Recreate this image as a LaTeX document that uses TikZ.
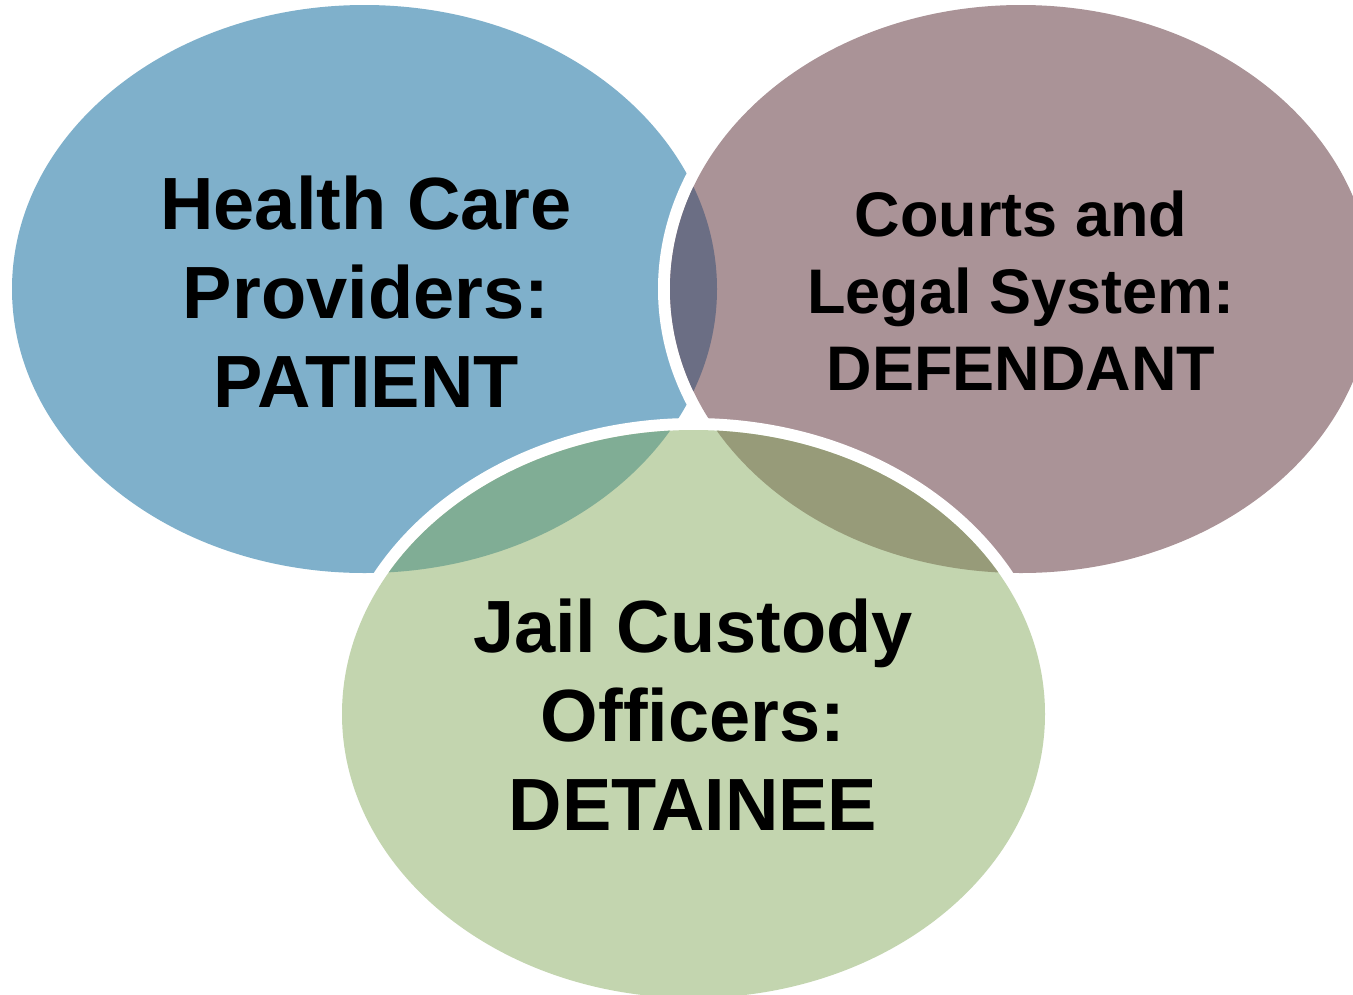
\documentclass[tikz,border=0pt]{standalone}
\usepackage{fontspec}
\setmainfont{Liberation Sans}
\definecolor{cblue}{HTML}{7FB0CB}
\definecolor{cmauve}{HTML}{AA9397}
\definecolor{cgreen}{HTML}{C3D5AF}
\definecolor{cbm}{HTML}{6B6E84}
\definecolor{cgb}{HTML}{80AD95}
\definecolor{cgm}{HTML}{979B79}
\begin{document}
\begin{tikzpicture}[x=1pt,y=-1pt,
  blueE/.style={insert path={(364.5,289) ellipse [x radius=352.5pt, y radius=284pt]}},
  mauveE/.style={insert path={(1021,289) ellipse [x radius=351pt, y radius=284pt]}},
  greenE/.style={insert path={(693.5,714) ellipse [x radius=351.5pt, y radius=284pt]}},
  band/.style={draw=white, line width=24pt},
  lbl/.style={align=center, inner sep=0pt, text=black, font=\bfseries\fontsize{74}{89}\selectfont},
  lblsmall/.style={align=center, inner sep=0pt, text=black, font=\bfseries\fontsize{63}{77}\selectfont}]
\useasboundingbox (0,0) rectangle (1353,994);
\clip (0,0) rectangle (1353,994);
\fill[white] (0,0) rectangle (1353,994);
% blue circle
\path[fill=cblue, blueE];
% mauve circle with white band over blue
\path[band, mauveE];
\path[fill=cmauve, mauveE];
\begin{scope}
  \path[clip, mauveE];
  \path[fill=cbm, blueE];
\end{scope}
% green circle with white band
\path[band, greenE];
\path[fill=cgreen, greenE];
\begin{scope}
  \path[clip, greenE];
  \path[fill=cgb, blueE];
  \path[fill=cgm, mauveE];
\end{scope}
% labels
\node[lbl] (hc) at (366,291.5) {Health Care\\Providers:\\PATIENT};
\node[lblsmall] (cl) at (1021,290.5) {Courts and\\Legal System:\\DEFENDANT};
\node[lbl] (jc) at (693,714.5) {Jail Custody\\Officers:\\DETAINEE};
\end{tikzpicture}
\end{document}
